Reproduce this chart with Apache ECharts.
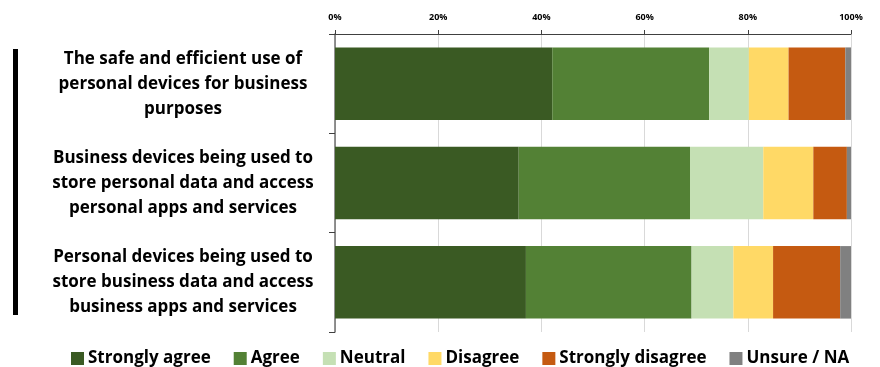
<!DOCTYPE html>
<html>
<head>
<meta charset="utf-8">
<script src="https://cdn.jsdelivr.net/npm/echarts@6/dist/echarts.min.js"></script>
<style>
  html, body { margin: 0; padding: 0; background: #ffffff; }
  #chart { width: 880px; height: 367px; }
</style>
</head>
<body>
<div id="chart"></div>
<script>
// Statements rated (top to bottom)
const categories = [
  'The safe and efficient use of\npersonal devices for business\npurposes',
  'Business devices being used to\nstore personal data and access\npersonal apps and services',
  'Personal devices being used to\nstore business data and access\nbusiness apps and services'
];

// Share of responses (%) per answer
const stronglyAgree    = [42.1, 35.6, 37.0];
const agree            = [30.4, 33.2, 32.1];
const neutral          = [7.7, 14.2, 8.1];
const disagree         = [7.7, 9.7, 7.7];
const stronglyDisagree = [11.0, 6.5, 13.0];
const unsure           = [1.1, 0.8, 2.1];

const seriesNames = ['Strongly agree', 'Agree', 'Neutral', 'Disagree', 'Strongly disagree', 'Unsure / NA'];
const seriesData = [stronglyAgree, agree, neutral, disagree, stronglyDisagree, unsure];
const seriesColors = ['#3A5A23', '#538135', '#C5E0B4', '#FFD966', '#C55A11', '#808080'];

const tickValues = [0, 20, 40, 60, 80, 100];

const FONT = '"Open Sans", Lato, sans-serif';

const chart = echarts.init(document.getElementById('chart'));

chart.setOption({
  animation: false,
  backgroundColor: '#ffffff',
  graphic: [{
    type: 'rect',
    left: 13,
    top: 49,
    shape: { width: 5, height: 266 },
    style: { fill: '#000000' }
  }],
  legend: {
    left: 66,
    top: 345,
    itemWidth: 13,
    itemHeight: 13,
    itemGap: 23,
    icon: 'rect',
    textStyle: { fontFamily: FONT, fontWeight: 'bold', fontSize: 17, color: '#000000', padding: [0, 0, 0, -1] },
    data: seriesNames
  },
  grid: { left: 335, right: 29, top: 34, bottom: 35 },
  xAxis: {
    type: 'value',
    position: 'top',
    min: tickValues[0],
    max: tickValues[tickValues.length - 1],
    interval: 20,
    axisLine: { show: true, lineStyle: { color: '#404040', width: 1 } },
    axisTick: { show: true, length: 4, lineStyle: { color: '#404040' } },
    splitLine: { show: true, lineStyle: { color: '#D9D9D9', width: 1 } },
    axisLabel: {
      margin: 12,
      fontFamily: FONT,
      fontWeight: 'bold',
      fontSize: 9,
      color: '#000000',
      formatter: v => v + '%'
    }
  },
  yAxis: {
    type: 'category',
    inverse: true,
    data: categories,
    axisLine: { show: true, lineStyle: { color: '#6E6E6E', width: 1.5 } },
    axisTick: { show: true, length: 6, alignWithLabel: false, lineStyle: { color: '#404040' } },
    axisLabel: {
      margin: 18,
      formatter: v => v.split('\n').map(line => '{l|' + line + '}').join('\n'),
      rich: {
        l: {
          width: 268,
          align: 'center',
          fontFamily: FONT,
          fontWeight: 'bold',
          fontSize: 17,
          lineHeight: 25,
          color: '#000000'
        }
      }
    }
  },
  series: seriesNames.map((name, i) => ({
    name: name,
    type: 'bar',
    stack: 'total',
    barWidth: '73%',
    itemStyle: { color: seriesColors[i] },
    emphasis: { disabled: true },
    data: seriesData[i]
  }))
});
</script>
</body>
</html>
